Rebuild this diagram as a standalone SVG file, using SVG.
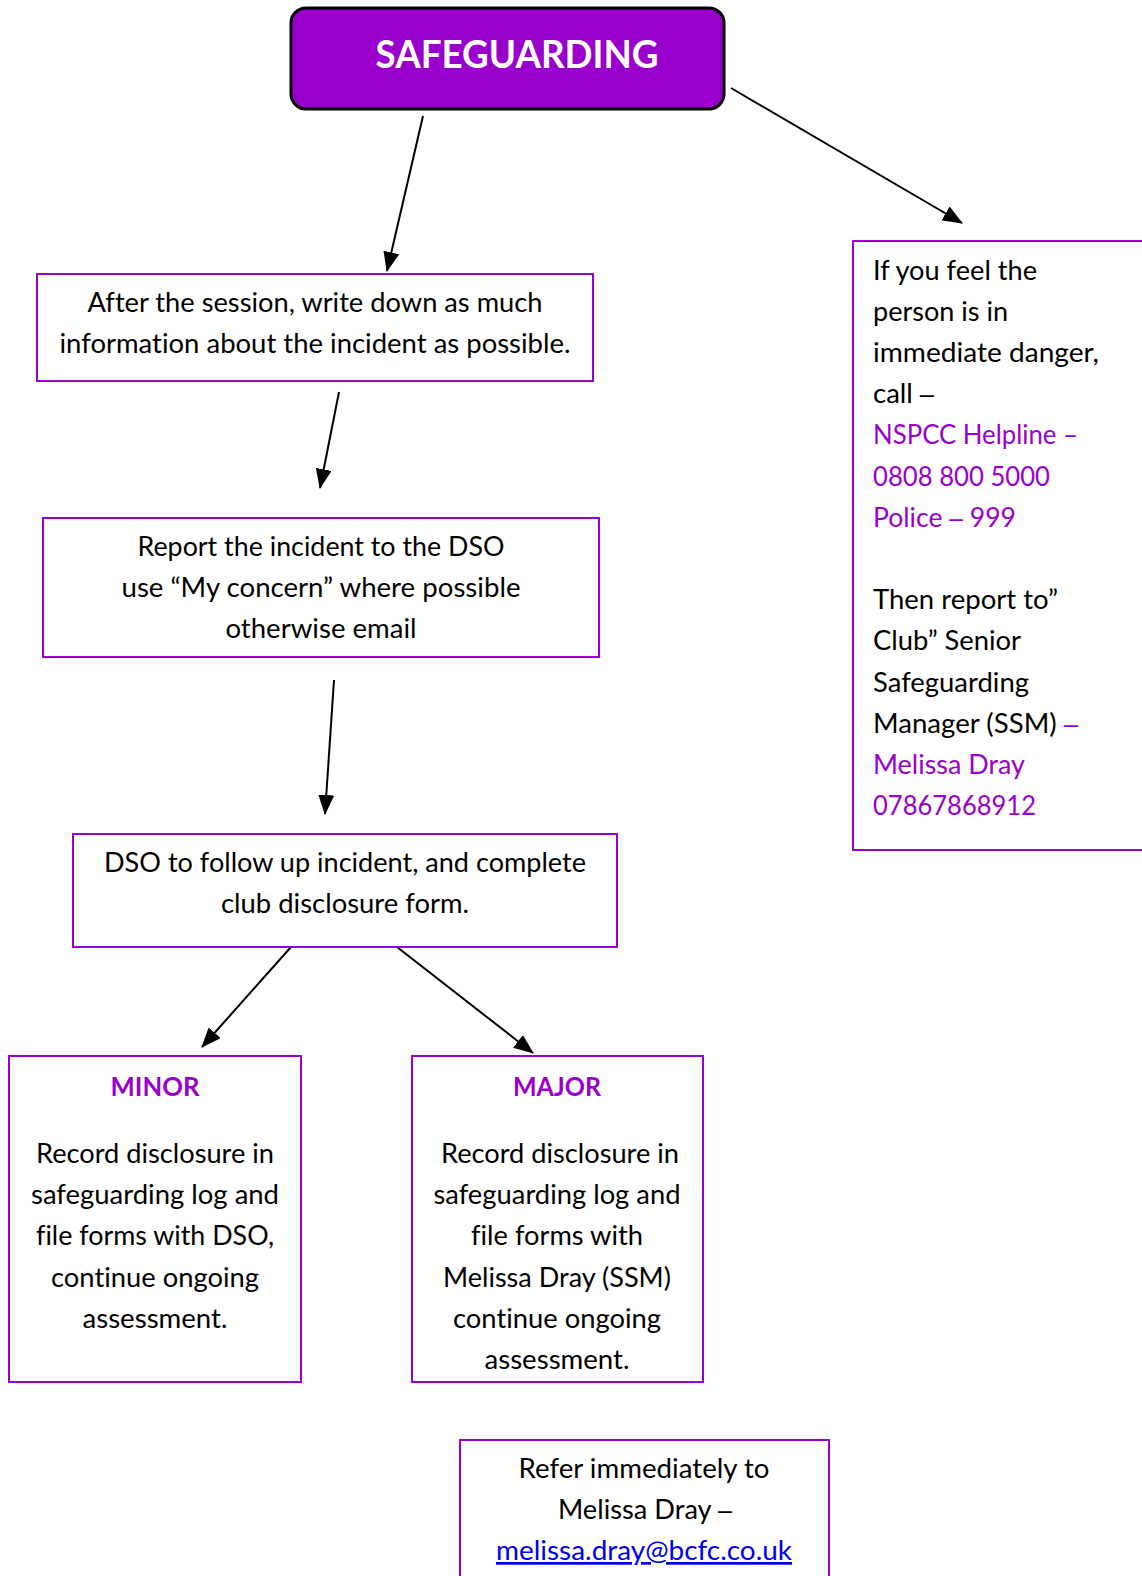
<svg xmlns="http://www.w3.org/2000/svg" width="1142" height="1576" viewBox="0 0 1142 1576">
<defs>
<style>
.box{fill:#fff;stroke:#9900CC;stroke-width:2}
.t{font-family:Lato,"Liberation Sans",sans-serif;font-size:27px;fill:#000;font-variant-ligatures:none}
.c{text-anchor:middle}
.p{fill:#9900CC}
.b{font-weight:bold}
.d{font-family:"Liberation Sans",sans-serif;font-size:25px}
.link{fill:#0000EE;text-decoration:underline}
.conn{stroke:#000;stroke-width:2;fill:none;marker-end:url(#ah)}
</style>
<marker id="ah" viewBox="0 0 20 16" markerWidth="20" markerHeight="16" markerUnits="userSpaceOnUse" refX="19" refY="8" orient="auto">
<path d="M0,0 L20,8 L0,16 z" fill="#000"/>
</marker>
</defs>
<rect width="1142" height="1576" fill="#fff"/>

<g id="connectors">
<line class="conn" x1="423" y1="116" x2="387" y2="271"/>
<line class="conn" x1="731" y1="88" x2="962" y2="223"/>
<line class="conn" x1="339" y1="392" x2="320" y2="488"/>
<line class="conn" x1="334" y1="680" x2="325" y2="814"/>
<line class="conn" x1="291" y1="947" x2="202" y2="1047"/>
<line class="conn" x1="397" y1="947" x2="533" y2="1053"/>
</g>

<g id="safeguarding">
<rect x="291" y="8" width="433" height="101" rx="15" ry="15" fill="#9900CC" stroke="#000" stroke-width="3"/>
<text class="t c b" x="517" y="68" style="font-size:38px;fill:#fff" textLength="283" lengthAdjust="spacingAndGlyphs">SAFEGUARDING</text>
</g>

<g id="after-session">
<rect class="box" x="37" y="274" width="556" height="107"/>
<text class="t c" x="315" y="312" textLength="455" lengthAdjust="spacingAndGlyphs">After the session, write down as much</text>
<text class="t c" x="315" y="353" textLength="511" lengthAdjust="spacingAndGlyphs">information about the incident as possible.</text>
</g>

<g id="report">
<rect class="box" x="43" y="518" width="556" height="139"/>
<text class="t c" x="321" y="556" textLength="367" lengthAdjust="spacingAndGlyphs">Report the incident to the DSO</text>
<text class="t c" x="321" y="597" textLength="399" lengthAdjust="spacingAndGlyphs">use “My concern” where possible</text>
<text class="t c" x="321" y="638" textLength="191" lengthAdjust="spacingAndGlyphs">otherwise email</text>
</g>

<g id="dso-follow-up">
<rect class="box" x="73" y="834" width="544" height="113"/>
<text class="t c" x="345" y="872" textLength="482" lengthAdjust="spacingAndGlyphs">DSO to follow up incident, and complete</text>
<text class="t c" x="345" y="913" textLength="248" lengthAdjust="spacingAndGlyphs">club disclosure form.</text>
</g>

<g id="minor">
<rect class="box" x="9" y="1056" width="292" height="326"/>
<text class="t c b p" x="155" y="1096" textLength="89" lengthAdjust="spacingAndGlyphs">MINOR</text>
<text class="t c" x="155" y="1163" textLength="238" lengthAdjust="spacingAndGlyphs">Record disclosure in</text>
<text class="t c" x="155" y="1204" textLength="248" lengthAdjust="spacingAndGlyphs">safeguarding log and</text>
<text class="t c" x="155" y="1245" textLength="238" lengthAdjust="spacingAndGlyphs">file forms with DSO,</text>
<text class="t c" x="155" y="1287" textLength="208" lengthAdjust="spacingAndGlyphs">continue ongoing</text>
<text class="t c" x="155" y="1328" textLength="145" lengthAdjust="spacingAndGlyphs">assessment.</text>
</g>

<g id="major">
<rect class="box" x="412" y="1056" width="291" height="326"/>
<text class="t c b p" x="557" y="1096" textLength="88" lengthAdjust="spacingAndGlyphs">MAJOR</text>
<text class="t c" x="560" y="1163" textLength="238" lengthAdjust="spacingAndGlyphs">Record disclosure in</text>
<text class="t c" x="557" y="1204" textLength="247" lengthAdjust="spacingAndGlyphs">safeguarding log and</text>
<text class="t c" x="557" y="1245" textLength="172" lengthAdjust="spacingAndGlyphs">file forms with</text>
<text class="t c" x="557" y="1287" textLength="228" lengthAdjust="spacingAndGlyphs">Melissa Dray (SSM)</text>
<text class="t c" x="557" y="1328" textLength="208" lengthAdjust="spacingAndGlyphs">continue ongoing</text>
<text class="t c" x="557" y="1369" textLength="145" lengthAdjust="spacingAndGlyphs">assessment.</text>
</g>

<g id="immediate-danger">
<rect class="box" x="853" y="241" width="300" height="609"/>
<text class="t" x="873" y="280" textLength="164" lengthAdjust="spacingAndGlyphs">If you feel the</text>
<text class="t" x="873" y="321" textLength="135" lengthAdjust="spacingAndGlyphs">person is in</text>
<text class="t" x="873" y="362" textLength="226" lengthAdjust="spacingAndGlyphs">immediate danger,</text>
<text class="t" x="873" y="403" textLength="61" lengthAdjust="spacingAndGlyphs">call <tspan class="d">–</tspan></text>
<text class="t p" x="873" y="444" textLength="205" lengthAdjust="spacingAndGlyphs">NSPCC Helpline –</text>
<text class="t p" x="873" y="486" textLength="177" lengthAdjust="spacingAndGlyphs">0808 800 5000</text>
<text class="t p" x="873" y="527" textLength="143" lengthAdjust="spacingAndGlyphs">Police <tspan class="d">–</tspan> 999</text>
<text class="t" x="873" y="609" textLength="185" lengthAdjust="spacingAndGlyphs">Then report to”</text>
<text class="t" x="873" y="650" textLength="148" lengthAdjust="spacingAndGlyphs">Club” Senior</text>
<text class="t" x="873" y="692" textLength="156" lengthAdjust="spacingAndGlyphs">Safeguarding</text>
<text class="t" x="873" y="733" textLength="205" lengthAdjust="spacingAndGlyphs">Manager (SSM) <tspan class="p d">–</tspan></text>
<text class="t p" x="873" y="774" textLength="152" lengthAdjust="spacingAndGlyphs">Melissa Dray</text>
<text class="t p" x="873" y="815" textLength="163" lengthAdjust="spacingAndGlyphs">07867868912</text>
</g>

<g id="refer">
<rect class="box" x="460" y="1440" width="369" height="150"/>
<text class="t c" x="644" y="1478" textLength="251" lengthAdjust="spacingAndGlyphs">Refer immediately to</text>
<text class="t c" x="645" y="1519" textLength="174" lengthAdjust="spacingAndGlyphs">Melissa Dray <tspan class="d">–</tspan></text>
<text class="t c link" x="644" y="1560" textLength="296" lengthAdjust="spacingAndGlyphs">melissa.dray@bcfc.co.uk</text>
</g>
</svg>
